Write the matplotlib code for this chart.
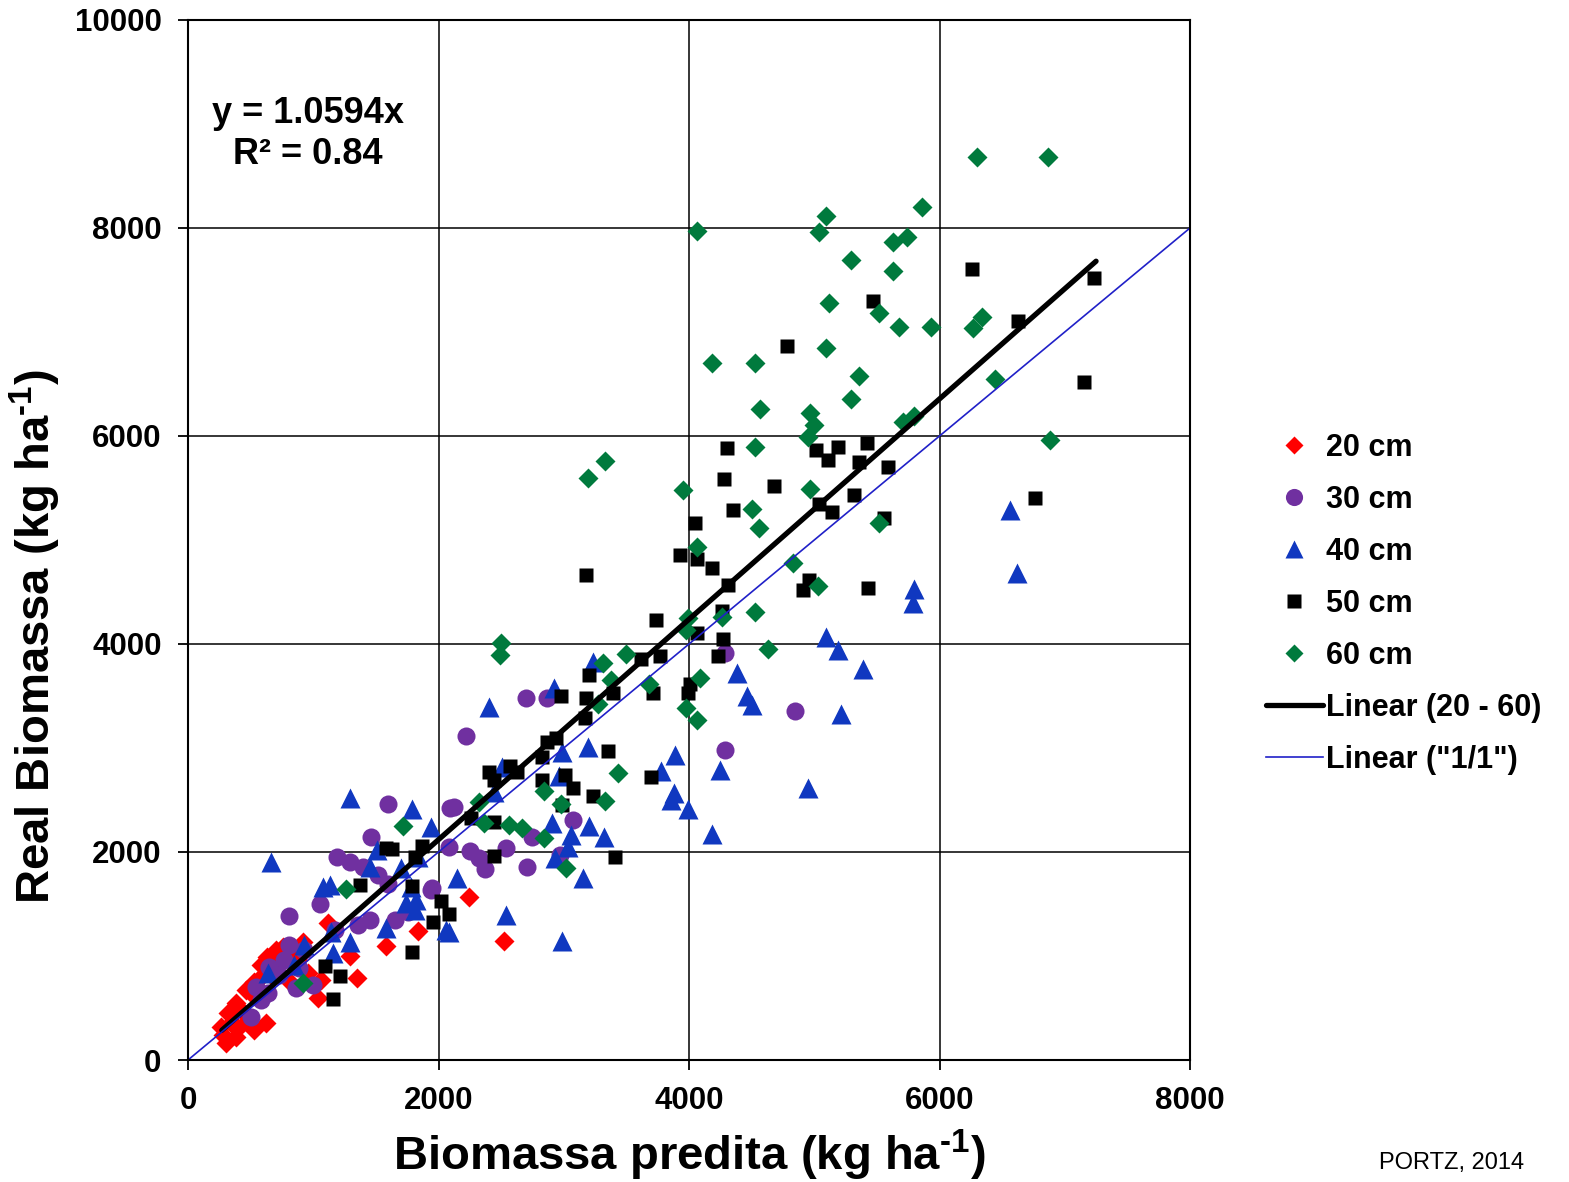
import matplotlib
matplotlib.use('Agg')
import matplotlib.pyplot as plt
import numpy as np

plt.rcParams['font.family'] = ['Liberation Sans', 'DejaVu Sans']
plt.rcParams['font.weight'] = 'bold'
plt.rcParams['mathtext.fontset'] = 'custom'
plt.rcParams['mathtext.rm'] = 'Liberation Sans:bold'
plt.rcParams['mathtext.bf'] = 'Liberation Sans:bold'

# 20 cm
x20 = [2240, 2520, 1840, 1580, 1290, 1350, 1040, 1120, 920, 760, 700, 630, 580, 530, 460,
       380, 320, 260, 300, 380, 530, 620, 480, 340, 420, 800, 880, 820, 960, 1060, 680,
       580, 500, 280, 400, 730]
y20 = [1570, 1140, 1240, 1100, 1000, 790, 600, 1320, 1130, 1090, 1060, 990, 910, 750, 670,
       550, 450, 320, 160, 220, 290, 360, 380, 360, 480, 770, 960, 1040, 840, 770, 800,
       800, 640, 240, 310, 940]

# 30 cm
x30 = [2700, 2870, 2220, 2090, 2120, 3070, 2750, 2540, 2250, 2320, 2370, 2710, 2970, 1950,
       2080, 1600, 1460, 1190, 1290, 810, 1050, 1170, 1400, 1520, 1600, 1940, 1760, 1650,
       1450, 1360, 770, 650, 860, 640, 500, 540, 580, 4850, 4290, 4290, 1000, 890, 730,
       810, 930]
y30 = [3480, 3480, 3120, 2420, 2430, 2310, 2140, 2040, 2010, 1940, 1840, 1860, 1970, 1650,
       2050, 2460, 2140, 1950, 1900, 1380, 1500, 1250, 1860, 1780, 1690, 1630, 1420, 1350,
       1350, 1300, 960, 890, 690, 640, 410, 700, 580, 3360, 2980, 3910, 720, 880, 820,
       1110, 1060]

# 40 cm
x40 = [6560, 6620, 5800, 5790, 5390, 5090, 5190, 4380, 4460, 4500, 5210, 4250, 4180, 4950,
       3230, 2920, 2400, 3190, 2990, 2510, 2960, 2440, 3890, 3780, 3880, 3860, 3990, 2910,
       3060, 3200, 3320, 3030, 2930, 3150, 1790, 1940, 2150, 1290, 660, 1510, 1450, 1700,
       1840, 1080, 1130, 1140, 1290, 1580, 1160, 930, 850, 640, 1780, 1810, 2080, 1740,
       1820, 2540, 2990, 2060]
y40 = [5290, 4680, 4530, 4390, 3760, 4070, 3940, 3720, 3500, 3410, 3330, 2790, 2170, 2620,
       3830, 3580, 3390, 3010, 2960, 2820, 2730, 2580, 2930, 2780, 2570, 2500, 2410, 2280,
       2160, 2250, 2140, 2050, 1940, 1750, 2410, 2240, 1750, 2520, 1900, 2020, 1860, 1850,
       1950, 1660, 1680, 1230, 1130, 1270, 1030, 1110, 910, 840, 1660, 1440, 1230, 1510,
       1540, 1390, 1140, 1250]

# 50 cm
x50 = [6260, 7230, 5470, 6630, 4780, 7150, 4300, 5010, 5190, 5420, 5110, 5360, 5590, 4280,
       4680, 4350, 5040, 5140, 5320, 5560, 4050, 3930, 4060, 4180, 4310, 6760, 3180, 4960,
       4910, 5430, 3740, 4260, 4060, 4270, 4230, 3620, 3770, 4010, 3710, 3990, 3390, 3200,
       2980, 3180, 3170, 2870, 2940, 2830, 3350, 2400, 2440, 2570, 2630, 2830, 3010, 3070,
       3230, 2990, 3700, 2440, 2260, 2440, 3410, 1870, 1810, 1580, 1630, 1370, 1790, 2020,
       2080, 1960, 1090, 1210, 1160, 1790]
y50 = [7610, 7520, 7300, 7110, 6870, 6520, 5880, 5870, 5890, 5930, 5770, 5750, 5700, 5590,
       5520, 5290, 5350, 5270, 5430, 5210, 5160, 4860, 4820, 4730, 4570, 5400, 4660, 4620,
       4520, 4540, 4230, 4320, 4110, 4050, 3880, 3860, 3880, 3620, 3530, 3530, 3530, 3700,
       3500, 3480, 3290, 3060, 3100, 2910, 2970, 2770, 2690, 2830, 2770, 2690, 2740, 2620,
       2540, 2450, 2720, 2290, 2330, 1960, 1950, 2060, 1950, 2040, 2030, 1680, 1670, 1530,
       1400, 1330, 900, 810, 590, 1040]

# 60 cm
x60 = [6300, 6870, 5860, 5090, 4060, 5040, 5630, 5740, 5290, 5630, 5120, 5520, 5680, 5930,
       6270, 6340, 5090, 4180, 4530, 5360, 6440, 4570, 5290, 4970, 5000, 4950, 5710, 5800,
       6880, 4530, 3190, 3330, 3950, 4970, 4500, 4560, 4060, 5520, 4830, 5030, 4530, 3990,
       4260, 4630, 3500, 3310, 3380, 3680, 4090, 3980, 4060, 2500, 2490, 3270, 3430, 2840,
       2980, 3330, 2320, 2360, 2560, 2670, 2840, 3020, 1720, 1260, 920, 3980]
y60 = [8680, 8680, 8200, 8120, 7970, 7960, 7870, 7910, 7690, 7590, 7280, 7180, 7050, 7050,
       7040, 7140, 6850, 6700, 6700, 6580, 6550, 6260, 6360, 6220, 6110, 5990, 6130, 6190,
       5960, 5890, 5600, 5760, 5480, 5490, 5300, 5120, 4930, 5160, 4780, 4560, 4310, 4250,
       4260, 3950, 3900, 3820, 3650, 3620, 3670, 3380, 3270, 4010, 3890, 3420, 2760, 2590,
       2460, 2490, 2480, 2280, 2260, 2230, 2130, 1850, 2250, 1640, 740, 4130]

slope = 1.0594
fit_x = [270, 7250]
ref_x = [0, 8000]

fig = plt.figure(figsize=(15.69, 11.82), dpi=100)
ax = fig.add_axes([188 / 1569, 1 - 1060 / 1182, 1002 / 1569, 1040 / 1182])

ax.plot(x20, y20, 'D', color='#ff0000', ms=10, mec='none', label='20 cm')
ax.plot(x30, y30, 'o', color='#7030a0', ms=13, mec='none', label='30 cm')
ax.plot(x40, y40, '^', color='#1038c0', ms=14, mec='none', label='40 cm')
ax.plot(x50, y50, 's', color='black', ms=10.5, mec='none', label='50 cm')
ax.plot(x60, y60, 'D', color='#007a3d', ms=10, mec='none', label='60 cm')
ax.plot(fit_x, [slope * v for v in fit_x], '-', color='black', lw=3.8,
        solid_capstyle='round', label='Linear (20 - 60)')
ax.plot(ref_x, ref_x, '-', color='#2020c8', lw=1.2, label='Linear ("1/1")')

ax.set_xlim(0, 8000)
ax.set_ylim(0, 10000)
ax.set_xticks(np.arange(0, 8001, 2000))
ax.set_yticks(np.arange(0, 10001, 2000))
ax.grid(True, color='black', lw=1.1)
ax.set_axisbelow(True)
for s in ax.spines.values():
    s.set_linewidth(1.5)
ax.tick_params(labelsize=22.5, length=7, width=1.3, pad=12)
for lab in ax.get_xticklabels() + ax.get_yticklabels():
    lab.set_fontweight('bold')

ax.set_xlabel(r'Biomassa predita (kg ha$^{\text{-1}}$)', fontsize=34, fontweight='bold', labelpad=8)
ax.set_ylabel(r'Real Biomassa (kg ha$^{\text{-1}}$)', fontsize=34, fontweight='bold')
ax.yaxis.set_label_coords(-0.125, 0.407)

fig.text(308 / 1569, 1 - 134 / 1182, 'y = 1.0594x\nR² = 0.84', fontsize=26,
         fontweight='bold', ha='center', va='center', multialignment='center', linespacing=1.25)

fig.legend(loc='upper left', bbox_to_anchor=(1266 / 1569, 1 - 433 / 1182), frameon=False,
           prop={'weight': 'bold', 'size': 22}, handlelength=1.85, handletextpad=0.1,
           labelspacing=0.72, borderpad=0, borderaxespad=0, markerscale=0.95)

fig.text(1452 / 1569, 1 - 1163 / 1182, 'PORTZ, 2014', fontsize=17, fontweight='normal',
         ha='center', va='center')

fig.savefig('out.png', dpi=100)
